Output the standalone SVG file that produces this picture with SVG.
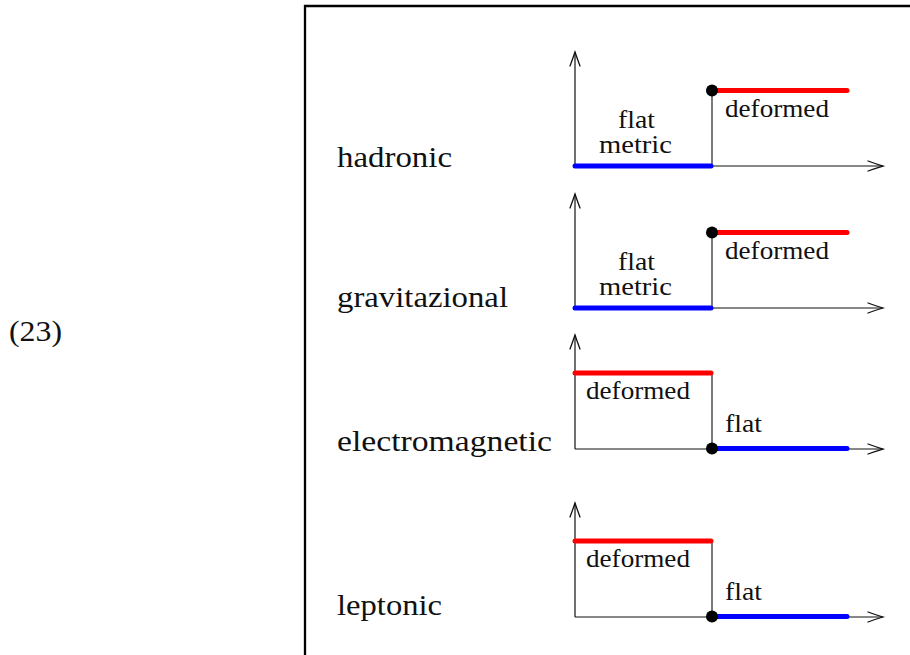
<svg xmlns="http://www.w3.org/2000/svg" width="910" height="655" viewBox="0 0 910 655">
<style>
text{font-family:"Liberation Serif","Times New Roman",serif;fill:#111}
.big{font-size:30px}
.sm{font-size:25px}
.ax{stroke:#111;stroke-width:1.2;fill:none}
.ah{stroke:#111;stroke-width:1.3;fill:none;stroke-linecap:round}
.step{stroke:#222;stroke-width:1.2;fill:none}
.red{stroke:#ff0000;stroke-width:5;stroke-linecap:round}
.blue{stroke:#0000ff;stroke-width:5;stroke-linecap:round}
</style>
<defs>
<g id="axes">
<line class="ax" x1="575" y1="0" x2="575" y2="114"/>
<path class="ah" d="M570,14 Q573,6 575,0 Q577,6 580,14"/>
<line class="ax" x1="575" y1="114" x2="883" y2="114"/>
<path class="ah" d="M868,109 Q876,112 883,114 Q876,116 868,119"/>
</g>
</defs>
<path d="M305,655 V6 H910" fill="none" stroke="#000" stroke-width="2.3"/>
<text class="big" x="9" y="341" textLength="53" lengthAdjust="spacingAndGlyphs">(23)</text>
<g id="hadronic">
<text class="big" x="337" y="167" textLength="115" lengthAdjust="spacingAndGlyphs">hadronic</text>
<use href="#axes" y="52"/>
<line class="step" x1="712" y1="91" x2="712" y2="166"/>
<line class="blue" x1="575" y1="166" x2="711" y2="166"/>
<line class="red" x1="712" y1="90.5" x2="847" y2="90.5"/>
<circle cx="712" cy="90.5" r="6" fill="#000"/>
<text class="sm" x="618" y="128" textLength="37" lengthAdjust="spacingAndGlyphs">flat</text>
<text class="sm" x="599" y="153" textLength="73" lengthAdjust="spacingAndGlyphs">metric</text>
<text class="sm" x="725" y="117" textLength="104" lengthAdjust="spacingAndGlyphs">deformed</text>
</g>
<g id="gravitazional">
<text class="big" x="337" y="307" textLength="171" lengthAdjust="spacingAndGlyphs">gravitazional</text>
<use href="#axes" y="194"/>
<line class="step" x1="712" y1="233" x2="712" y2="308"/>
<line class="blue" x1="575" y1="308" x2="711" y2="308"/>
<line class="red" x1="712" y1="232.5" x2="847" y2="232.5"/>
<circle cx="712" cy="232.5" r="6" fill="#000"/>
<text class="sm" x="618" y="270" textLength="37" lengthAdjust="spacingAndGlyphs">flat</text>
<text class="sm" x="599" y="295" textLength="73" lengthAdjust="spacingAndGlyphs">metric</text>
<text class="sm" x="725" y="259" textLength="104" lengthAdjust="spacingAndGlyphs">deformed</text>
</g>
<g id="electromagnetic">
<text class="big" x="337" y="451" textLength="215" lengthAdjust="spacingAndGlyphs">electromagnetic</text>
<use href="#axes" y="335"/>
<line class="step" x1="712" y1="373" x2="712" y2="448"/>
<line class="red" x1="575" y1="373" x2="711" y2="373"/>
<line class="blue" x1="712" y1="448.5" x2="847" y2="448.5"/>
<circle cx="712" cy="448.5" r="6" fill="#000"/>
<text class="sm" x="586" y="399" textLength="104" lengthAdjust="spacingAndGlyphs">deformed</text>
<text class="sm" x="725" y="432" textLength="37" lengthAdjust="spacingAndGlyphs">flat</text>
</g>
<g id="leptonic">
<text class="big" x="337" y="615" textLength="105" lengthAdjust="spacingAndGlyphs">leptonic</text>
<use href="#axes" y="503"/>
<line class="step" x1="712" y1="541" x2="712" y2="616"/>
<line class="red" x1="575" y1="541" x2="711" y2="541"/>
<line class="blue" x1="712" y1="616.5" x2="847" y2="616.5"/>
<circle cx="712" cy="616.5" r="6" fill="#000"/>
<text class="sm" x="586" y="567" textLength="104" lengthAdjust="spacingAndGlyphs">deformed</text>
<text class="sm" x="725" y="600" textLength="37" lengthAdjust="spacingAndGlyphs">flat</text>
</g>
</svg>
